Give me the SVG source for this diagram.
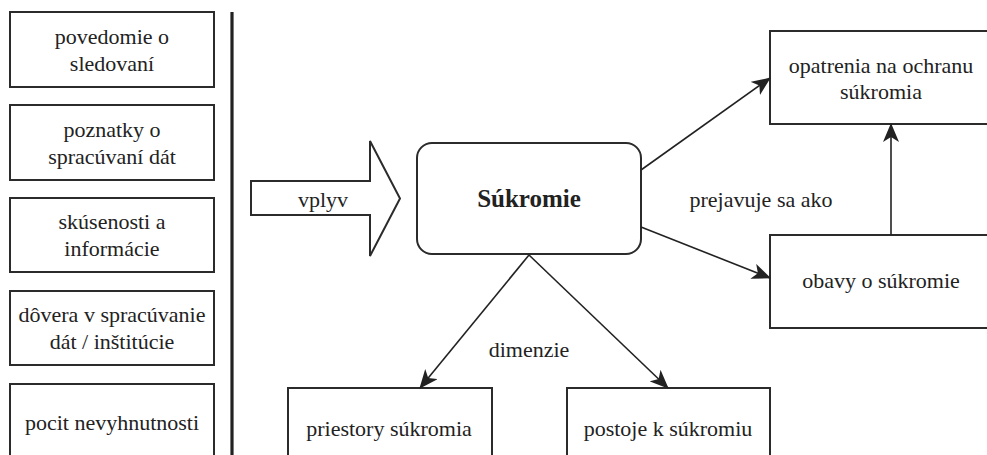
<svg xmlns="http://www.w3.org/2000/svg" width="987" height="455" viewBox="0 0 987 455">
<style>
.box{fill:#fff;stroke:#2b2b2b;stroke-width:2}
.c{fill:none;stroke:#222;stroke-width:1.6}
</style>
<defs>
<marker id="ah" markerUnits="userSpaceOnUse" markerWidth="20" markerHeight="16" refX="18" refY="8" orient="auto" viewBox="0 0 20 16">
<path d="M0,0 L19,8 L0,16 L5,8 z" fill="#222"/>
</marker>
</defs>
<rect width="987" height="455" fill="#fff"/>
<g font-family="Liberation Serif, Times New Roman, Times, serif" font-size="22" fill="#222" text-anchor="middle">
<g id="n1"><rect class="box" x="10" y="12" width="204" height="75"/><text x="112" y="44">povedomie o</text><text x="112" y="71">sledovaní</text></g>
<g id="n2"><rect class="box" x="10" y="105" width="204" height="75"/><text x="112" y="137">poznatky o</text><text x="112" y="164">spracúvaní dát</text></g>
<g id="n3"><rect class="box" x="10" y="198" width="204" height="74"/><text x="112" y="229">skúsenosti a</text><text x="112" y="256">informácie</text></g>
<g id="n4"><rect class="box" x="10" y="291" width="204" height="74"/><text x="112" y="322">dôvera v spracúvanie</text><text x="112" y="349">dát / inštitúcie</text></g>
<g id="n5"><rect class="box" x="10" y="384" width="204" height="80"/><text x="112" y="430">pocit nevyhnutnosti</text></g>
<g id="divider"><line x1="232" y1="12" x2="232" y2="455" stroke="#222" stroke-width="3.2"/></g>
<g id="vplyv"><polygon class="box" points="251,181 370,181 370,141 400,198.5 370,256 370,215 251,215"/><text x="323" y="207">vplyv</text></g>
<g id="sukromie"><rect class="box" x="417" y="143" width="224" height="111" rx="15" ry="15"/><text x="529" y="207" font-weight="bold" font-size="25">Súkromie</text></g>
<g id="opatrenia"><rect class="box" x="770" y="31" width="230" height="93"/><text x="881" y="73">opatrenia na ochranu</text><text x="881" y="99">súkromia</text></g>
<g id="obavy"><rect class="box" x="770" y="235" width="230" height="93"/><text x="881" y="288">obavy o súkromie</text></g>
<g id="priestory"><rect class="box" x="288" y="388" width="204" height="80"/><text x="389" y="436">priestory súkromia</text></g>
<g id="postoje"><rect class="box" x="567" y="388" width="203" height="80"/><text x="668" y="436">postoje k súkromiu</text></g>
<g id="connectors">
<line class="c" x1="641" y1="170" x2="770" y2="78" marker-end="url(#ah)"/>
<line class="c" x1="641" y1="227" x2="770" y2="278" marker-end="url(#ah)"/>
<line class="c" x1="891" y1="235" x2="891" y2="124" marker-end="url(#ah)"/>
<line class="c" x1="529" y1="255" x2="420" y2="388" marker-end="url(#ah)"/>
<line class="c" x1="529" y1="255" x2="668" y2="388" marker-end="url(#ah)"/>
<text x="761" y="207">prejavuje sa ako</text>
<text x="529" y="357">dimenzie</text>
</g>
</g>
</svg>
